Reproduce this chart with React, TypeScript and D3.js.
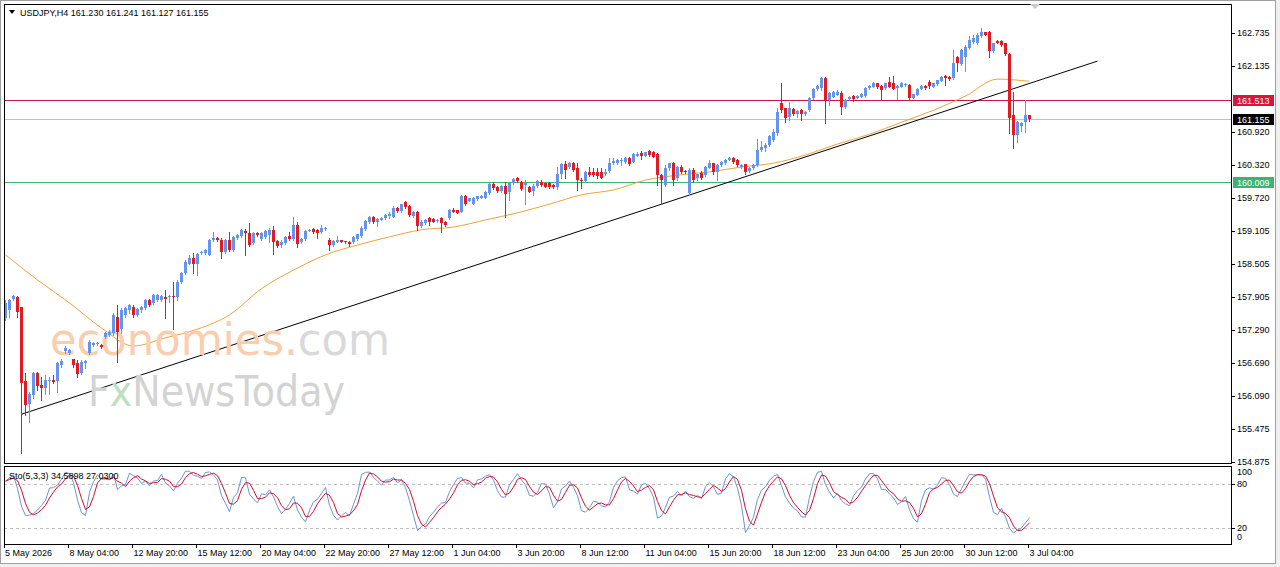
import React from "react";
import * as d3 from "d3";

// ---------- DATA ----------
const symbolTitle = "USDJPY,H4  161.230 161.241 161.127 161.155";
const stochTitle = "Sto(5,3,3) 34.5898 27.0300";

// H4 candles [open, high, low, close], from 5 May 2026 12:00 to 3 Jul 2026 04:00
const candles: [number, number, number, number][] = [
  [157.51, 157.84, 157.47, 157.78], [157.66, 157.87, 157.54, 157.84], [157.855, 157.93, 157.84, 157.915], [157.90, 157.92, 157.54, 157.63],
  [157.71, 157.72, 155.04, 156.33], [156.35, 156.50, 155.74, 155.92], [155.94, 156.16, 155.61, 156.13], [156.10, 156.52, 156.04, 156.50],
  [156.51, 156.53, 156.19, 156.26], [156.29, 156.44, 156.01, 156.225], [156.225, 156.47, 156.13, 156.38], [156.35, 156.44, 156.13, 156.38],
  [156.38, 156.47, 156.32, 156.34], [156.35, 156.71, 156.16, 156.68], [156.65, 156.76, 156.62, 156.73], [156.90, 157.00, 156.88, 156.97],
  [156.88, 156.95, 156.86, 156.92], [156.76, 156.77, 156.62, 156.65], [156.69, 156.74, 156.44, 156.49], [156.50, 156.74, 156.49, 156.71],
  [156.68, 156.74, 156.59, 156.725], [156.865, 157.11, 156.85, 157.08], [157.02, 157.07, 157.00, 157.05], [157.03, 157.07, 157.01, 157.05],
  [157.02, 157.04, 156.97, 156.99], [157.17, 157.26, 157.15, 157.23], [157.20, 157.29, 157.18, 157.26], [157.23, 157.60, 157.20, 157.57],
  [157.54, 157.75, 156.71, 157.26], [157.32, 157.69, 157.23, 157.66], [157.57, 157.72, 157.54, 157.69], [157.66, 157.77, 157.60, 157.75],
  [157.71, 157.75, 157.54, 157.57], [157.57, 157.69, 157.55, 157.67], [157.66, 157.73, 157.63, 157.72], [157.69, 157.87, 157.67, 157.84],
  [157.84, 157.86, 157.73, 157.75], [157.78, 157.95, 157.77, 157.93], [157.84, 157.95, 157.82, 157.93], [157.84, 157.94, 157.82, 157.92],
  [157.90, 158.03, 157.51, 157.87], [157.89, 157.93, 157.81, 157.92], [157.92, 158.18, 157.32, 157.89], [157.90, 158.21, 157.84, 158.18],
  [158.18, 158.36, 158.16, 158.34], [158.33, 158.58, 158.32, 158.545], [158.51, 158.67, 158.50, 158.62], [158.62, 158.70, 158.33, 158.51],
  [158.51, 158.71, 158.30, 158.685], [158.70, 158.75, 158.69, 158.73], [158.70, 158.78, 158.68, 158.76], [158.67, 158.96, 158.66, 158.94],
  [158.94, 159.08, 158.93, 158.97], [158.97, 158.99, 158.92, 158.94], [158.94, 158.97, 158.61, 158.73], [158.73, 158.96, 158.71, 158.94],
  [158.94, 159.08, 158.75, 158.76], [158.76, 159.02, 158.75, 159.00], [158.97, 159.05, 158.96, 159.03], [159.02, 159.15, 159.00, 159.125],
  [159.11, 159.14, 158.67, 159.065], [159.065, 159.25, 158.84, 158.85], [158.88, 159.09, 158.87, 159.075], [159.075, 159.09, 159.01, 159.03],
  [158.96, 159.09, 158.94, 159.065], [159.00, 159.13, 158.98, 159.11], [159.03, 159.156, 158.91, 159.125], [159.12, 159.19, 158.68, 158.91],
  [158.92, 158.94, 158.82, 158.84], [158.85, 158.94, 158.82, 158.90], [158.88, 159.02, 158.87, 159.00], [159.02, 159.095, 158.94, 158.96],
  [158.96, 159.37, 158.94, 159.217], [159.217, 159.28, 158.82, 158.86], [158.90, 158.98, 158.88, 158.96], [158.96, 159.13, 158.95, 159.11],
  [159.11, 159.14, 159.10, 159.125], [159.14, 159.16, 159.065, 159.095], [159.125, 159.14, 158.985, 159.065], [159.095, 159.22, 159.065, 159.17],
  [159.14, 159.18, 159.13, 159.17], [158.94, 158.97, 158.76, 158.85], [158.85, 158.94, 158.83, 158.92], [158.91, 159.02, 158.90, 158.94],
  [158.936, 158.95, 158.90, 158.912], [158.92, 158.93, 158.89, 158.90], [158.91, 158.92, 158.84, 158.86], [158.90, 159.02, 158.89, 159.00],
  [158.96, 159.06, 158.95, 159.046], [159.02, 159.19, 159.00, 159.17], [159.14, 159.30, 159.13, 159.29], [159.265, 159.39, 159.25, 159.37],
  [159.37, 159.39, 159.25, 159.265], [159.265, 159.34, 159.19, 159.32], [159.31, 159.37, 159.30, 159.35], [159.34, 159.42, 159.33, 159.40],
  [159.39, 159.46, 159.34, 159.41], [159.37, 159.56, 159.36, 159.534], [159.534, 159.55, 159.46, 159.47], [159.47, 159.61, 159.46, 159.595],
  [159.63, 159.66, 159.53, 159.55], [159.57, 159.59, 159.39, 159.40], [159.39, 159.48, 159.37, 159.46], [159.46, 159.47, 159.13, 159.19],
  [159.19, 159.30, 159.18, 159.28], [159.25, 159.33, 159.24, 159.31], [159.35, 159.37, 159.22, 159.28], [159.33, 159.34, 159.27, 159.28],
  [159.29, 159.32, 159.28, 159.31], [159.34, 159.37, 159.095, 159.25], [159.28, 159.29, 159.20, 159.217], [159.34, 159.51, 159.32, 159.49],
  [159.50, 159.52, 159.45, 159.46], [159.49, 159.50, 159.43, 159.44], [159.46, 159.76, 159.45, 159.74], [159.74, 159.77, 159.58, 159.60],
  [159.66, 159.72, 159.65, 159.705], [159.61, 159.73, 159.60, 159.72], [159.69, 159.75, 159.68, 159.74], [159.72, 159.76, 159.71, 159.74],
  [159.72, 159.84, 159.71, 159.83], [159.80, 159.98, 159.79, 159.96], [159.97, 160.00, 159.88, 159.89], [159.92, 159.93, 159.83, 159.84],
  [159.84, 159.95, 159.83, 159.93], [159.94, 160.01, 159.37, 159.78], [159.83, 160.01, 159.675, 159.98], [159.98, 160.08, 159.97, 160.06],
  [160.085, 160.10, 160.01, 160.024], [160.01, 160.02, 159.86, 159.88], [159.95, 160.04, 159.60, 159.98], [159.92, 159.94, 159.82, 159.83],
  [159.84, 159.96, 159.77, 159.94], [159.93, 160.04, 159.92, 160.02], [160.01, 160.04, 159.93, 159.95], [159.98, 159.99, 159.91, 159.92],
  [159.98, 160.00, 159.90, 159.92], [159.95, 159.96, 159.89, 159.92], [159.92, 160.286, 159.88, 160.16], [160.145, 160.36, 160.07, 160.33],
  [160.33, 160.39, 160.07, 160.225], [160.286, 160.37, 160.27, 160.347], [160.36, 160.38, 160.21, 160.225], [160.256, 160.347, 159.86, 160.04],
  [160.05, 160.07, 159.89, 160.02], [160.02, 160.21, 160.00, 160.18], [160.18, 160.286, 160.12, 160.133], [160.18, 160.27, 160.12, 160.133],
  [160.194, 160.26, 160.07, 160.12], [160.18, 160.26, 160.07, 160.085], [160.145, 160.24, 160.13, 160.194], [160.207, 160.44, 160.19, 160.347],
  [160.347, 160.44, 160.33, 160.39], [160.35, 160.43, 160.34, 160.41], [160.39, 160.44, 160.32, 160.40], [160.378, 160.47, 160.36, 160.44],
  [160.45, 160.46, 160.31, 160.33], [160.378, 160.54, 160.37, 160.512], [160.49, 160.56, 160.48, 160.512], [160.53, 160.57, 160.43, 160.49],
  [160.49, 160.56, 160.48, 160.55], [160.57, 160.60, 160.49, 160.50], [160.55, 160.57, 160.46, 160.47], [160.51, 160.53, 159.95, 160.133],
  [160.133, 160.16, 159.60, 160.04], [159.95, 160.317, 159.94, 160.256], [160.256, 160.36, 160.23, 160.347], [160.347, 160.378, 159.95, 160.04],
  [160.07, 160.30, 160.04, 160.286], [160.286, 160.317, 160.165, 160.18], [160.20, 160.22, 160.17, 160.18], [159.80, 160.256, 159.77, 160.225],
  [160.225, 160.256, 160.01, 160.04], [160.07, 160.16, 160.05, 160.145], [160.165, 160.20, 160.06, 160.072], [160.133, 160.30, 160.12, 160.286],
  [160.27, 160.41, 160.26, 160.347], [160.347, 160.36, 160.15, 160.18], [160.194, 160.33, 160.04, 160.317], [160.317, 160.39, 160.30, 160.378],
  [160.347, 160.43, 160.33, 160.41], [160.41, 160.47, 160.40, 160.45], [160.45, 160.47, 160.36, 160.378], [160.41, 160.42, 160.30, 160.317],
  [160.28, 160.33, 160.27, 160.32], [160.33, 160.34, 160.15, 160.18], [160.207, 160.28, 160.19, 160.27], [160.256, 160.33, 160.24, 160.317],
  [160.317, 160.79, 160.30, 160.59], [160.59, 160.76, 160.57, 160.65], [160.62, 160.72, 160.57, 160.68], [160.68, 160.87, 160.66, 160.84],
  [160.77, 160.97, 160.75, 160.93], [160.90, 161.355, 160.87, 161.28], [161.446, 161.81, 161.28, 161.324], [161.355, 161.37, 161.11, 161.17],
  [161.20, 161.465, 161.14, 161.355], [161.34, 161.36, 161.23, 161.245], [161.26, 161.33, 161.20, 161.306], [161.325, 161.34, 161.14, 161.245],
  [161.245, 161.31, 161.23, 161.294], [161.324, 161.568, 161.31, 161.538], [161.538, 161.73, 161.52, 161.71], [161.71, 161.79, 161.69, 161.77],
  [161.73, 161.92, 161.69, 161.904], [161.904, 161.93, 161.08, 161.507], [161.507, 161.66, 161.42, 161.63], [161.57, 161.68, 161.56, 161.66],
  [161.60, 161.69, 161.59, 161.66], [161.63, 161.67, 161.26, 161.385], [161.385, 161.52, 161.37, 161.507], [161.525, 161.58, 161.51, 161.57],
  [161.587, 161.60, 161.49, 161.525], [161.55, 161.60, 161.54, 161.587], [161.57, 161.63, 161.56, 161.61], [161.587, 161.75, 161.57, 161.73],
  [161.72, 161.78, 161.71, 161.77], [161.75, 161.83, 161.74, 161.81], [161.81, 161.82, 161.72, 161.75], [161.77, 161.78, 161.525, 161.69],
  [161.72, 161.82, 161.71, 161.81], [161.83, 161.93, 161.74, 161.75], [161.81, 161.95, 161.70, 161.71], [161.72, 161.78, 161.525, 161.77],
  [161.75, 161.83, 161.74, 161.81], [161.78, 161.82, 161.77, 161.80], [161.79, 161.80, 161.52, 161.538], [161.55, 161.62, 161.54, 161.61],
  [161.60, 161.72, 161.59, 161.71], [161.71, 161.78, 161.70, 161.77], [161.765, 161.78, 161.71, 161.72], [161.84, 161.87, 161.72, 161.77],
  [161.75, 161.82, 161.74, 161.81], [161.795, 161.88, 161.78, 161.87], [161.855, 161.945, 161.85, 161.935], [161.95, 161.965, 161.79, 161.904],
  [161.935, 161.95, 161.88, 161.89], [161.904, 162.42, 161.89, 162.18], [162.29, 162.31, 162.03, 162.18], [162.16, 162.45, 162.15, 162.42],
  [162.30, 162.52, 162.03, 162.485], [162.466, 162.686, 162.45, 162.607], [162.576, 162.70, 162.56, 162.65], [162.545, 162.73, 162.53, 162.698],
  [162.686, 162.83, 162.67, 162.747], [162.747, 162.76, 162.69, 162.698], [162.747, 162.77, 162.30, 162.405], [162.405, 162.56, 162.38, 162.545],
  [162.59, 162.61, 162.55, 162.56], [162.59, 162.61, 162.50, 162.515], [162.545, 162.56, 162.33, 162.344], [162.344, 162.36, 160.90, 161.172],
  [161.23, 161.66, 160.62, 160.87], [160.87, 161.13, 160.73, 161.10], [161.04, 161.11, 160.94, 161.09], [161.10, 161.50, 160.93, 161.23],
  [161.230, 161.241, 161.127, 161.155],
];

// Moving average read every 8 bars (bar index, price)
const maBarIndex = [0, 8, 16, 24, 32, 40, 48, 56, 64, 72, 80, 88, 96, 104, 112, 120, 128, 136, 144, 152, 160, 168, 176, 184, 192, 200, 208, 216, 224, 232, 240, 248, 256];
const maValues = [158.67, 158.21, 157.79, 157.33, 157.0, 157.15, 157.31, 157.57, 158.05, 158.39, 158.67, 158.85, 159.0, 159.13, 159.18, 159.31, 159.44, 159.6, 159.77, 159.86, 160.04, 160.13, 160.19, 160.28, 160.35, 160.5, 160.7, 160.88, 161.1, 161.32, 161.58, 161.89, 161.85];

// Trend line anchors (bar index, price)
const trendBars = [4, 273];
const trendPrices = [155.75, 162.22];

// Horizontal levels
const resistanceLevel = 161.513;
const currentPrice = 161.155;
const supportLevel = 160.009;

// Axis ticks
const priceTicks = [162.735, 162.135, 160.92, 160.32, 159.72, 159.105, 158.505, 157.905, 157.29, 156.69, 156.09, 155.475, 154.875];
const timeTickBars = [0, 16, 32, 48, 64, 80, 96, 112, 128, 144, 160, 176, 192, 208, 224, 240, 256];
const timeTickLabels = ["5 May 2026", "8 May 04:00", "12 May 20:00", "15 May 12:00", "20 May 04:00", "22 May 20:00", "27 May 12:00", "1 Jun 04:00", "3 Jun 20:00", "8 Jun 12:00", "11 Jun 04:00", "15 Jun 20:00", "18 Jun 12:00", "23 Jun 04:00", "25 Jun 20:00", "30 Jun 12:00", "3 Jul 04:00"];
const stochTicks = [100, 80, 20, 0];
const stochLevels = [80, 20];
const stochParams = { k: 5, slowing: 3, d: 3 };

// watermark
const watermarkTop = "economies.com";
const watermarkBottom = "FxNewsToday";

// ---------- COMPONENT ----------
const FONT = "'Liberation Sans', Arial, sans-serif";
const BULL = "#6495ED";
const BEAR = "#E01B24";

export default function App() {
  const W = 1280, H = 567;
  const pl = 4, pr = 1232, pt = 4, pb = 463;
  const st = 466, sb = 544;

  const x = d3.scaleLinear().domain([0, 256]).range([5.5, 1029.5]);
  const y = d3.scaleLinear().domain([154.875, 162.735]).range([462, 33]);
  const ys = d3.scaleLinear().domain([0, 100]).range([543, 469.2]);

  // Stochastic oscillator derived from the candles
  const stochK = candles.map((_, i) => {
    let num = 0, den = 0;
    for (let j = Math.max(0, i - stochParams.slowing + 1); j <= i; j++) {
      const win = candles.slice(Math.max(0, j - stochParams.k + 1), j + 1);
      const hh = d3.max(win, (c) => c[1]) as number;
      const ll = d3.min(win, (c) => c[2]) as number;
      num += candles[j][3] - ll;
      den += hh - ll;
    }
    return den === 0 ? 50 : (100 * num) / den;
  });
  const stochD = stochK.map((_, i) => d3.mean(stochK.slice(Math.max(0, i - stochParams.d + 1), i + 1)) as number);

  const maLine = d3.line<number>().x((_, i) => x(maBarIndex[i])).y((v) => y(v)).curve(d3.curveMonotoneX);
  const kLine = d3.line<number>().x((_, i) => x(i)).y((v) => ys(v));
  const crisp = (v: number) => Math.round(v) + 0.5;

  const levelBox = (price: number, bg: string, fg: string) => {
    const yy = crisp(y(price));
    return (
      <g key={"lb" + price}>
        <rect x={1233} y={yy - 5.5} width={41} height={11} fill={bg} />
        <text x={1237} y={yy} dy="0.35em" fontSize={9} fill={fg} fontFamily={FONT}>{price.toFixed(3)}</text>
      </g>
    );
  };

  return (
    <svg width={W} height={H} style={{ position: "absolute", left: 0, top: 0, display: "block" }} fontFamily={FONT}>
      <defs>
        <clipPath id="mainClip"><rect x={pl} y={pt} width={pr - pl} height={pb - pt} /></clipPath>
        <clipPath id="stClip"><rect x={pl} y={st} width={pr - pl} height={sb - st} /></clipPath>
        <linearGradient id="wmTop" gradientUnits="userSpaceOnUse" x1={50} x2={390} y1={0} y2={0}>
          <stop offset="0" stopColor="#F9CDAE" />
          <stop offset="0.715" stopColor="#F9CDAE" />
          <stop offset="0.715" stopColor="#D9D9D9" />
          <stop offset="1" stopColor="#D9D9D9" />
        </linearGradient>
        <linearGradient id="wmBottom" gradientUnits="userSpaceOnUse" x1={88} x2={345} y1={0} y2={0}>
          <stop offset="0" stopColor="#D3D3D3" />
          <stop offset="0.08" stopColor="#D3D3D3" />
          <stop offset="0.08" stopColor="#C0DEC0" />
          <stop offset="0.18" stopColor="#C0DEC0" />
          <stop offset="0.18" stopColor="#D3D3D3" />
          <stop offset="1" stopColor="#D3D3D3" />
        </linearGradient>
      </defs>
      <rect x={0} y={0} width={W} height={H} fill="#F0F0F0" />
      <rect x={0.5} y={0.5} width={1275} height={563} fill="#FFFFFF" stroke="#A0A0A0" />

      {/* main panel */}
      <g clipPath="url(#mainClip)">
        <line x1={pl} x2={pr} y1={crisp(y(resistanceLevel))} y2={crisp(y(resistanceLevel))} stroke="#C8174A" />
        <line x1={pl} x2={pr} y1={crisp(y(currentPrice))} y2={crisp(y(currentPrice))} stroke="#C0C0C0" />
        <line x1={pl} x2={pr} y1={crisp(y(supportLevel))} y2={crisp(y(supportLevel))} stroke="#3CB371" />
        <path d={maLine(maValues) || ""} fill="none" stroke="#EDA23C" strokeWidth={1} />
        <line x1={x(trendBars[0])} y1={y(trendPrices[0])} x2={x(trendBars[1])} y2={y(trendPrices[1])} stroke="#000" strokeWidth={1} />

        {/* watermark */}
        <text x={50} y={355} fontSize={44} textLength={340} lengthAdjust="spacingAndGlyphs" fontFamily="'DejaVu Sans', sans-serif" fill="url(#wmTop)">{watermarkTop}</text>
        <text x={88} y={406} fontSize={42} textLength={257} lengthAdjust="spacingAndGlyphs" fontFamily="'DejaVu Sans', sans-serif" fill="url(#wmBottom)">{watermarkBottom}</text>

        {candles.map((c, i) => {
          const [o, h, l, cl] = c;
          const cx = x(i);
          const col = cl >= o ? BULL : BEAR;
          const top = Math.round(y(Math.max(o, cl)));
          const bot = Math.round(y(Math.min(o, cl)));
          return (
            <g key={i} shapeRendering="crispEdges">
              <line x1={cx} x2={cx} y1={Math.round(y(h))} y2={Math.round(y(l)) + 1} stroke={col} />
              <rect x={cx - 1.5} y={top} width={3} height={Math.max(1, bot - top)} fill={col} />
            </g>
          );
        })}
      </g>
      <rect x={pl + 0.5} y={pt + 0.5} width={pr - pl - 1} height={pb - pt} fill="none" stroke="#000" />

      {/* header */}
      <polygon points="9,10 15,10 12,14" fill="#000" />
      <text x={20} y={13} dy="0.35em" fontSize={9} fill="#000">{symbolTitle}</text>
      <polygon points="1030,4 1040,4 1035,9" fill="#C8C8C8" />

      {/* price axis */}
      {priceTicks.map((p) => (
        <g key={"pt" + p}>
          <line x1={pr} x2={pr + 3} y1={crisp(y(p))} y2={crisp(y(p))} stroke="#000" />
          <text x={1237} y={y(p)} dy="0.35em" fontSize={9} fill="#000">{p.toFixed(3)}</text>
        </g>
      ))}
      {levelBox(resistanceLevel, "#DC143C", "#FFFFFF")}
      {levelBox(currentPrice, "#000000", "#FFFFFF")}
      {levelBox(supportLevel, "#3CB371", "#FFFFFF")}

      {/* stochastic panel */}
      {stochLevels.map((v) => (
        <line key={"sl" + v} x1={pl} x2={pr} y1={crisp(ys(v))} y2={crisp(ys(v))} stroke="#C0C0C0" strokeDasharray="3,3" />
      ))}
      <g clipPath="url(#stClip)">
        <path d={kLine(stochK) || ""} fill="none" stroke="#6F93D3" strokeWidth={1} />
        <path d={kLine(stochD) || ""} fill="none" stroke="#D0112B" strokeWidth={1} />
      </g>
      <rect x={pl + 0.5} y={st + 0.5} width={pr - pl - 1} height={sb - st} fill="none" stroke="#000" />
      <text x={9} y={476} dy="0.35em" fontSize={9} fill="#000">{stochTitle}</text>
      {stochTicks.map((v) => (
        <g key={"stt" + v}>
          {(v === 80 || v === 20) && <line x1={pr} x2={pr + 3} y1={crisp(ys(v))} y2={crisp(ys(v))} stroke="#000" />}
          <text x={1237} y={Math.min(537, Math.max(472, ys(v)))} dy="0.35em" fontSize={9} fill="#000">{v}</text>
        </g>
      ))}

      {/* time axis */}
      {timeTickBars.map((b, i) => (
        <g key={"tt" + b}>
          <line x1={crisp(x(b) - 2)} x2={crisp(x(b) - 2)} y1={sb} y2={sb + 4} stroke="#000" />
          <text x={i === 0 ? 5 : x(b)} y={553} dy="0.35em" fontSize={9} fill="#000">{timeTickLabels[i]}</text>
        </g>
      ))}
    </svg>
  );
}
